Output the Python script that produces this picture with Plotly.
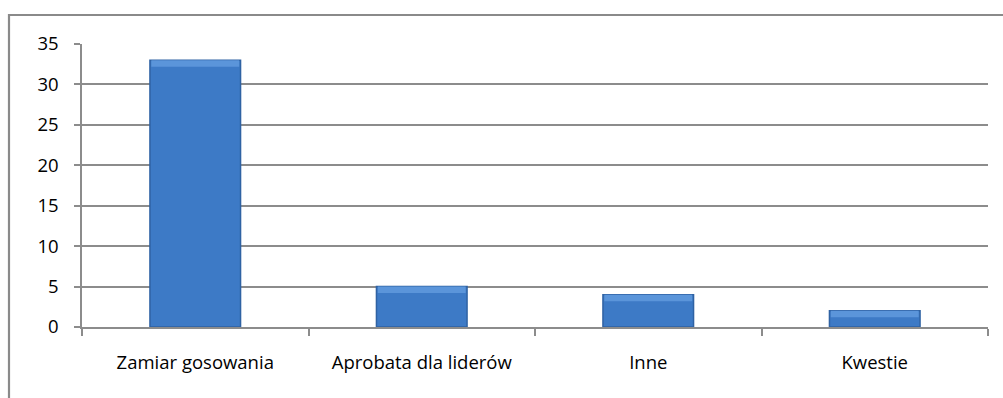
import plotly.graph_objects as go

categories = ["Zamiar gosowania", "Aprobata dla liderów", "Inne", "Kwestie"]
values = [33, 5, 4, 2]
y_ticks = [0, 5, 10, 15, 20, 25, 30, 35]

BAR_W = 0.40
BEVEL = 0.8  # height of the light top band, in value units
FONT = "Open Sans"
GRID = "#8c8c8c"

fig = go.Figure()

# main bar body
fig.add_trace(go.Bar(
    x=categories, y=values, width=BAR_W,
    marker=dict(color="#3D7AC6", line=dict(color="#2F62A3", width=1.5)),
    hoverinfo="x+y", showlegend=False,
))
# lighter bevel band along the top edge of each bar
fig.add_trace(go.Bar(
    x=categories, y=[BEVEL] * len(values),
    base=[v - BEVEL for v in values], width=BAR_W * 0.97,
    marker=dict(color="#5B95DA", line=dict(width=0)),
    hoverinfo="skip", showlegend=False,
))

# outer chart-area frame
plot_w, plot_h = 906, 283
fig.add_shape(
    type="rect", xref="paper", yref="paper",
    x0=(9 - 82) / plot_w, x1=(1010 - 82) / plot_w,
    y0=(327 - 410) / plot_h, y1=(327 - 15) / plot_h,
    line=dict(color="#8a8a8a", width=2.2), fillcolor="rgba(0,0,0,0)",
    layer="below",
)

fig.update_layout(
    width=1003, height=398,
    margin=dict(l=82, r=15, t=44, b=71),
    paper_bgcolor="white", plot_bgcolor="white",
    barmode="overlay", bargap=0.6,
    font=dict(family=FONT, size=18.5, color="#000000"),
    xaxis=dict(
        type="category", range=[-0.5, 3.5],
        showline=True, linecolor=GRID, linewidth=1.5,
        ticks="outside", tickson="boundaries", ticklen=7,
        tickcolor=GRID, tickwidth=1.5,
        showgrid=False, ticklabelstandoff=18,
        tickfont=dict(family=FONT, size=18.5, color="#000"),
    ),
    yaxis=dict(
        range=[0, 35], tickvals=y_ticks, ticktext=[str(t) for t in y_ticks],
        showline=True, linecolor=GRID, linewidth=1.5,
        ticks="outside", ticklen=6, tickcolor=GRID, tickwidth=1.5,
        showgrid=True, gridcolor=GRID, gridwidth=1.5,
        zeroline=False, ticklabelstandoff=12,
        tickfont=dict(family=FONT, size=18.5, color="#000"),
    ),
)

fig.write_html("out.html")
